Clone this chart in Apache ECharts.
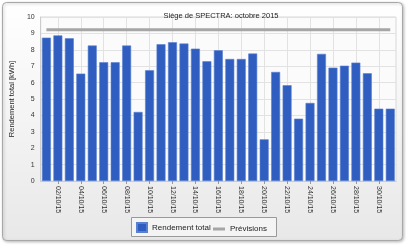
<!DOCTYPE html>
<html><head><meta charset="utf-8">
<script src="https://cdn.jsdelivr.net/npm/echarts@6/dist/echarts.min.js"></script>
<style>html,body{margin:0;padding:0;background:#fff}#c{width:408px;height:248px}</style>
</head><body><div id="c"></div>
<script>
const title = 'Siège de SPECTRA: octobre 2015';
const yName = 'Rendement total [kWh]';
const categories = ['01/10/15','02/10/15','03/10/15','04/10/15','05/10/15','06/10/15','07/10/15','08/10/15','09/10/15','10/10/15','11/10/15','12/10/15','13/10/15','14/10/15','15/10/15','16/10/15','17/10/15','18/10/15','19/10/15','20/10/15','21/10/15','22/10/15','23/10/15','24/10/15','25/10/15','26/10/15','27/10/15','28/10/15','29/10/15','30/10/15','31/10/15'];
const rendement = [8.74,8.88,8.70,6.55,8.26,7.24,7.24,8.26,4.21,6.75,8.34,8.46,8.38,8.07,7.30,7.97,7.44,7.44,7.77,2.54,6.65,5.84,3.80,4.76,7.75,6.91,7.03,7.22,6.57,4.41,4.41];
const previsions = [9.23,9.23,9.23,9.23,9.23,9.23,9.23,9.23,9.23,9.23,9.23,9.23,9.23,9.23,9.23,9.23,9.23,9.23,9.23,9.23,9.23,9.23,9.23,9.23,9.23,9.23,9.23,9.23,9.23,9.23,9.23];
const legendNames = ['Rendement total','Prévisions'];

const font = 'Liberation Sans';
const chart = echarts.init(document.getElementById('c'), null, {renderer:'canvas'});
const gridMarks = categories.filter((c,i)=>i%2===1).map(c=>({xAxis:c}));
const legendText = {fontSize:8,color:'#222',fontFamily:font};
chart.setOption({
  animation:false,
  textStyle:{fontFamily:font},
  graphic:[
    {type:'rect',z:-10,silent:true,shape:{x:2.5,y:2.5,width:400,height:238,r:4},
      style:{fill:new echarts.graphic.LinearGradient(0,0,0,1,[{offset:0,color:'#ffffff'},{offset:1,color:'#e8e8e8'}]),
        stroke:'#a8a8a8',lineWidth:1,shadowColor:'rgba(0,0,0,0.25)',shadowBlur:3,shadowOffsetX:1,shadowOffsetY:1}},
    {type:'rect',z:-5,silent:true,shape:{x:131.5,y:217.5,width:145,height:19},
      style:{fill:'#f4f4f4',stroke:'#999',lineWidth:1}}
  ],
  title:{text:title,left:216,textAlign:'center',top:7,textStyle:{fontSize:7.5,fontWeight:'normal',color:'#222',fontFamily:font}},
  grid:{left:33,right:12,top:17,bottom:67,show:true,backgroundColor:'#fbfbfb',borderColor:'#d8d8d8',borderWidth:1},
  legend:[
    {left:136,top:222,data:[{name:legendNames[0],icon:'rect'}],itemWidth:10,itemHeight:9,padding:0,textStyle:legendText},
    {left:213,top:225,data:[{name:legendNames[1],icon:'rect'}],itemWidth:12,itemHeight:3,padding:0,textStyle:legendText}
  ],
  xAxis:{type:'category',data:categories,boundaryGap:true,
    axisLine:{show:true,lineStyle:{color:'#ccc'}},
    axisTick:{show:true,alignWithLabel:true,interval:(i)=>i%2===1,length:3,lineStyle:{color:'#999'}},
    axisLabel:{interval:(i)=>i%2===1,rotate:-90,fontSize:7,color:'#333',margin:5,fontFamily:font},
    splitLine:{show:false}},
  yAxis:{type:'value',min:0,max:10,interval:1,name:yName,nameLocation:'middle',nameGap:18,
    nameTextStyle:{fontSize:7.5,color:'#222',fontFamily:font},
    axisLine:{show:true,lineStyle:{color:'#ccc'}},axisTick:{show:false},
    axisLabel:{fontSize:7,color:'#333',margin:6,fontFamily:font},
    splitLine:{show:true,lineStyle:{color:'#e2e2e2',width:1}}},
  series:[
    {name:'grid',type:'line',data:[],z:0,silent:true,
      markLine:{z:0,zlevel:0,silent:true,symbol:'none',label:{show:false},animation:false,lineStyle:{color:'#e2e2e2',type:'solid',width:1},data:gridMarks}},
    {name:legendNames[0],type:'bar',data:rendement,barCategoryGap:'22%',z:2,
      itemStyle:{color:'#2f5ec0',borderColor:'#5a80d0',borderWidth:0.6}},
    {name:legendNames[1],type:'line',data:previsions,symbol:'none',z:3,
      lineStyle:{color:'#a6a6a6',width:3},itemStyle:{color:'#a6a6a6'}}
  ]
});
</script></body></html>
